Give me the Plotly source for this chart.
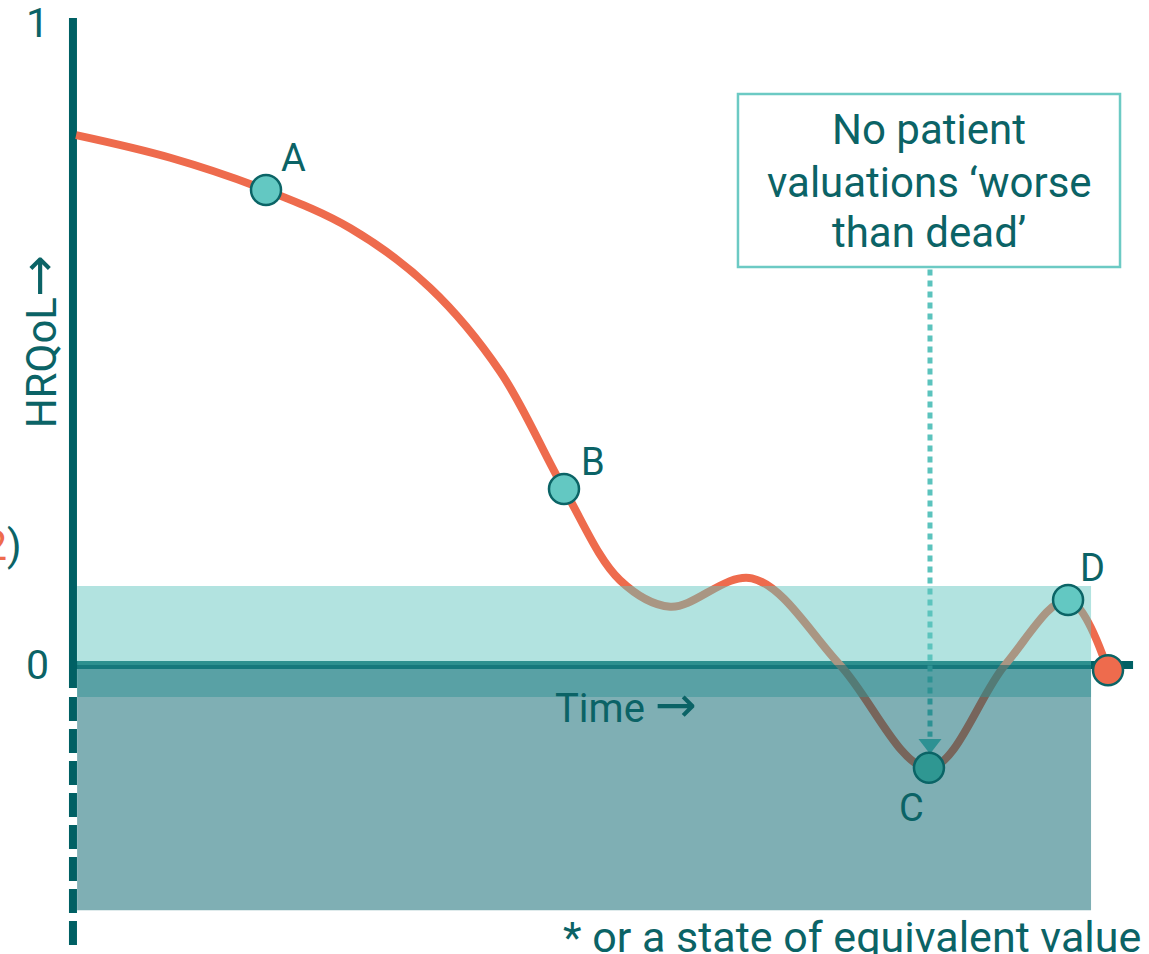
import plotly.graph_objects as go

# ---- data (time in arbitrary units, HRQoL utility) ----
curve_t = [0.003, 0.094, 0.1865, 0.268, 0.345, 0.413, 0.4744, 0.5285, 0.577, 0.656, 0.741, 0.827, 0.9005, 0.9614, 1.0]
curve_y = [0.819, 0.784, 0.734, 0.675, 0.583, 0.453, 0.272, 0.131, 0.090, 0.134, 0.0, -0.159, 0.0, 0.1005, -0.008]

point_labels = ["A", "B", "C", "D"]
point_t = [0.1865, 0.4744, 0.827, 0.9614]
point_y = [0.734, 0.272, -0.159, 0.1005]
point_fill = ["#63C8C2", "#63C8C2", "#2F9792", "#63C8C2"]

end_t = [1.0]
end_y = [-0.008]

# bands: "worse than dead" region and near-dead region
light_band = dict(t0=0.004, t1=0.9836, y0=-0.0495, y1=0.122)
dark_band = dict(t0=0.004, t1=0.9836, y0=0.0, y1=-0.379)

y_ticks = [0, 1]
y_ticktext = ["0", "1"]

box_lines = ["No patient", "valuations \u2018worse", "than dead\u2019"]
box_line_y = [0.8269, 0.7465, 0.6692]

# ---- styling ----
TEAL = "#006064"
TEXT = "#0B6366"
ORANGE = "#EE6B4D"
FONT = "Roboto"


def arrow(size):
    return "<span style='font-family:DejaVu Sans;font-size:%dpx'>\u2192</span>" % size


W, H = 1149, 954
XR = [-0.0705, 1.0396]
YR = [-0.4467, 1.0278]

fig = go.Figure()

# lower subplot: curve and pointer arrow (drawn under translucent bands)
fig.add_trace(go.Scatter(x=curve_t, y=curve_y, mode="lines",
                         line=dict(color=ORANGE, width=8, shape="spline", smoothing=1.0),
                         xaxis="x", yaxis="y", hoverinfo="skip", showlegend=False))
C_idx = point_labels.index("C")
fig.add_trace(go.Scatter(x=[point_t[C_idx] + 0.001, point_t[C_idx] + 0.001],
                         y=[0.6151 - 0.004, point_y[C_idx] + 0.048],
                         mode="lines", line=dict(color="#5BC3BD", width=5, dash="6px,5px"),
                         xaxis="x", yaxis="y", hoverinfo="skip", showlegend=False))
fig.add_trace(go.Scatter(x=[point_t[C_idx] + 0.001], y=[point_y[C_idx] + 0.037],
                         mode="markers", marker=dict(symbol="triangle-down", size=20, color="#5BC3BD"),
                         xaxis="x", yaxis="y", hoverinfo="skip", showlegend=False))

# upper subplot: markers (above bands)
fig.add_trace(go.Scatter(x=point_t, y=point_y, mode="markers",
                         marker=dict(size=30, color=point_fill, line=dict(color="#0B6466", width=2.5)),
                         xaxis="x2", yaxis="y2", hoverinfo="skip", showlegend=False))
fig.add_trace(go.Scatter(x=end_t, y=end_y, mode="markers",
                         marker=dict(size=30, color=ORANGE, line=dict(color="#0B6466", width=2.5)),
                         xaxis="x2", yaxis="y2", hoverinfo="skip", showlegend=False))

shapes = []
# horizontal axis line (under bands)
shapes.append(dict(type="line", xref="x", yref="y", x0=0, x1=1.0242, y0=0, y1=0,
                   line=dict(color=TEAL, width=8), layer="below"))
# vertical axis solid + dashed part
shapes.append(dict(type="line", xref="x", yref="y", x0=0, x1=0, y0=1.0, y1=-0.0355,
                   line=dict(color=TEAL, width=8), layer="below"))
shapes.append(dict(type="line", xref="x", yref="y", x0=0, x1=0, y0=-0.0495, y1=-0.4328,
                   line=dict(color=TEAL, width=8, dash="24px,8px"), layer="below"))
# bands in upper subplot (below its markers, above lower subplot's curve)
shapes.append(dict(type="rect", xref="x2", yref="y2", x0=light_band["t0"], x1=light_band["t1"],
                   y0=light_band["y0"], y1=light_band["y1"], fillcolor="rgba(95,196,190,0.48)",
                   line=dict(width=0), layer="below"))
shapes.append(dict(type="rect", xref="x2", yref="y2", x0=dark_band["t0"], x1=dark_band["t1"],
                   y0=dark_band["y0"], y1=dark_band["y1"], fillcolor="rgba(0,96,106,0.5)",
                   line=dict(width=0), layer="below"))
# callout box
shapes.append(dict(type="rect", xref="x2", yref="y2", x0=0.6425, x1=1.0116, y0=0.6151, y1=0.8825,
                   fillcolor="white", line=dict(color="#6CCAC4", width=2.5), layer="above"))

annotations = []
# point labels
offsets = {"A": (27, 32), "B": (29, 27), "C": (-17, -40), "D": (24, 32)}
for lab, t, y in zip(point_labels, point_t, point_y):
    dx, dy = offsets[lab]
    annotations.append(dict(x=t, y=y, xref="x2", yref="y2", text=lab, showarrow=False,
                            xshift=dx, yshift=dy, font=dict(family=FONT, size=38, color=TEXT)))
# y tick labels
for v, txt in zip(y_ticks, y_ticktext):
    annotations.append(dict(x=-0.034, y=v, xref="x2", yref="y2", text=txt, showarrow=False,
                            yshift=-5 if v == 1 else 0,
                            font=dict(family=FONT, size=41, color=TEXT)))
# axis titles
annotations.append(dict(x=-0.032, y=0.5, xref="x2", yref="y2", text="HRQoL" + arrow(50), textangle=-90,
                        showarrow=False, font=dict(family=FONT, size=42, color=TEXT)))
annotations.append(dict(x=0.534, y=-0.062, xref="x2", yref="y2", text="Time " + arrow(50),
                        showarrow=False, font=dict(family=FONT, size=40, color=TEXT)))
# callout text
for line, ly in zip(box_lines, box_line_y):
    annotations.append(dict(x=0.8275, y=ly, xref="x2", yref="y2", text=line,
                            showarrow=False, align="center",
                            font=dict(family=FONT, size=42, color=TEXT)))
# footnote
annotations.append(dict(x=1.0, y=0.0, xref="paper", yref="paper", xanchor="right", yanchor="bottom",
                        text="* or a state of equivalent value", showarrow=False, xshift=-6, yshift=-10,
                        font=dict(family=FONT, size=43, color=TEXT)))
# clipped label at left edge
annotations.append(dict(x=0.0, y=0.184, xref="paper", yref="y2", xanchor="right",
                        text="(<span style='color:%s'>2</span>)" % ORANGE, showarrow=False, xshift=24,
                        font=dict(family=FONT, size=42, color=TEXT)))

axis_common = dict(visible=False, showgrid=False, zeroline=False, fixedrange=True)
fig.update_layout(
    width=W, height=H, margin=dict(l=0, r=0, t=0, b=0, pad=0),
    paper_bgcolor="white", plot_bgcolor="rgba(0,0,0,0)",
    xaxis=dict(range=XR, domain=[0, 1], anchor="y", **axis_common),
    yaxis=dict(range=YR, domain=[0, 1], anchor="x", **axis_common),
    xaxis2=dict(range=XR, domain=[0, 1], anchor="y2", **axis_common),
    yaxis2=dict(range=YR, domain=[0, 1], anchor="x2", **axis_common),
    shapes=shapes, annotations=annotations, showlegend=False,
)

fig.write_html("out.html", config={"displayModeBar": False},
               post_script="document.body.style.margin='0';document.body.style.overflow='hidden';")
